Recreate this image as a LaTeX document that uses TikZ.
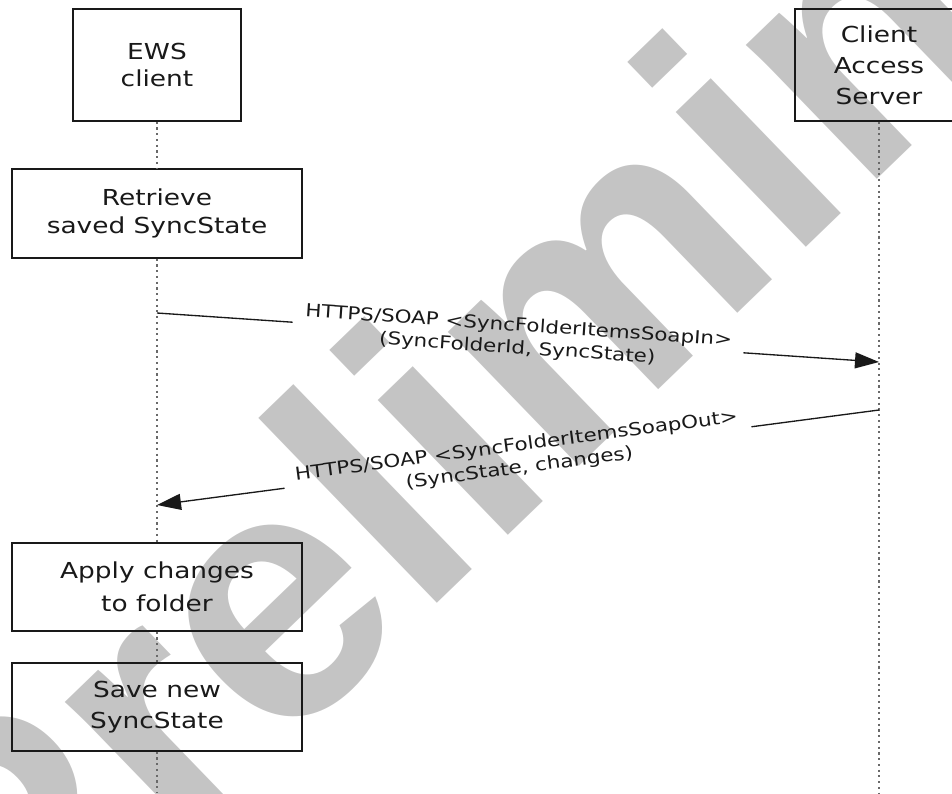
\documentclass[tikz,border=0pt]{standalone}
\usepackage{fontspec}
\setmainfont{DejaVu Sans}[FakeStretch=1.2]
\newfontfamily\wmfont{Liberation Sans}
\usetikzlibrary{arrows.meta,calc}
\definecolor{wmgray}{RGB}{196,196,196}
\definecolor{lifegray}{RGB}{105,105,105}
\definecolor{ink}{RGB}{25,25,25}
\begin{document}
\begin{tikzpicture}[x=0.75pt,y=-0.75pt,
  box/.style={draw=ink, line width=1.1pt, minimum width=126pt, minimum height=84pt,
    inner sep=0pt, align=center, text=ink, font=\fontsize{16.5}{20.6}\selectfont},
  widebox/.style={box, minimum width=217.5pt, minimum height=66pt},
  life/.style={draw=lifegray, line width=1.7pt, dash pattern=on 1.6pt off 2.7pt},
  msg/.style={align=center, inner xsep=9pt, inner ysep=0pt, text=ink,
    font=\fontsize{13.4}{16.9}\selectfont},
  msgline/.style={draw=ink, line width=1pt},
  tip/.style={-{Triangle[length=18pt,width=12pt]}},
  wm/.style={inner sep=0pt, text=wmgray, font=\wmfont\bfseries\fontsize{266}{266}\selectfont}
]
\useasboundingbox (0,0) rectangle (952,793);
\begin{scope}
  \clip (0,0) rectangle (952,793);
  \node[wm, rotate=44, anchor=base west] (wmark) at (8,1018) {Preliminary};
\end{scope}

% participants
\node[box] (ews) at (157,65) {EWS\\client};
\node[box, font=\fontsize{16.5}{23.2}\selectfont] (cas) at (879,65) {Client\\Access\\Server};

% activities
\node[widebox, minimum height=66.75pt] (ret) at (157,213.5) {Retrieve\\saved SyncState};
\node[widebox, font=\fontsize{16.5}{24.4}\selectfont] (app) at (157,587) {Apply changes\\to folder};
\node[widebox, font=\fontsize{16.5}{23.6}\selectfont] (sav) at (157,707) {Save new\\SyncState};

% lifelines
\coordinate (ewsend) at (157,793);
\coordinate (casend) at (879,793);
\draw[life] (ews.south) -- (ret.north);
\draw[life] (ret.south) -- (app.north);
\draw[life] (app.south) -- (sav.north);
\draw[life] (sav.south) -- (ewsend);
\draw[life] (cas.south) -- (casend);

% request
\coordinate (q1) at (157,313);
\coordinate (q2) at (879,362);
\node[msg, rotate=-3.88] (m1) at ($(q1)!0.5!(q2)$)
  {HTTPS/SOAP <SyncFolderItemsSoapIn>\\(SyncFolderId, SyncState)};
\draw[msgline] (q1) -- (m1.west);
\draw[msgline, tip] (m1.east) -- (q2);

% response
\coordinate (p1) at (879,410);
\coordinate (p2) at (157,505);
\node[msg, rotate=7.5] (m2) at ($(p1)!0.5!(p2)$)
  {HTTPS/SOAP <SyncFolderItemsSoapOut>\\(SyncState, changes)};
\draw[msgline] (p1) -- (m2.east);
\draw[msgline, tip] (m2.west) -- (p2);
\end{tikzpicture}
\end{document}
